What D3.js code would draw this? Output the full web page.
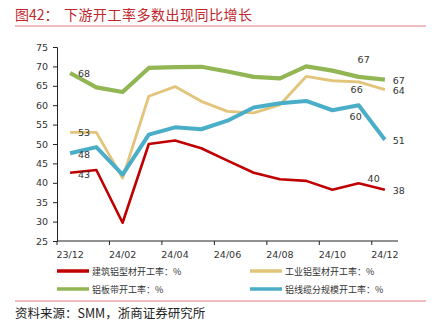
<!DOCTYPE html>
<html>
<head>
<meta charset="utf-8">
<script src="https://cdn.jsdelivr.net/npm/d3@7"></script>
<style>
  body { margin: 0; background: #fff; }
  svg text { font-family: "DejaVu Sans", "Noto Sans CJK SC", sans-serif; }
  .cjk { font-family: "Noto Sans CJK SC", sans-serif; }
</style>
</head>
<body>
<svg id="chart" width="434" height="335"></svg>
<script>
// data
const months = ["23/12", "24/01", "24/02", "24/03", "24/04", "24/05", "24/06",
  "24/07", "24/08", "24/09", "24/10", "24/11", "24/12"]
const tickLabels = ["23/12", "24/02", "24/04", "24/06", "24/08", "24/10", "24/12"]
const yTicks = [25, 30, 35, 40, 45, 50, 55, 60, 65, 70, 75]

const construction = [42.6, 43.3, 29.7, 50.0, 50.9, 48.9, 45.7, 42.6, 40.9, 40.5, 38.2, 39.9, 38.2]
const industrial = [53.0, 53.0, 41.2, 62.3, 64.8, 61.0, 58.4, 58.0, 60.1, 67.4, 66.3, 66.0, 64.0]
const strip = [68.3, 64.6, 63.4, 69.6, 69.8, 69.9, 68.7, 67.3, 66.9, 70.0, 68.9, 67.3, 66.6]
const cable = [47.6, 49.2, 42.1, 52.4, 54.3, 53.8, 56.0, 59.4, 60.5, 61.1, 58.7, 60.0, 51.1]

const series = [
  {name: "建筑铝型材开工率：%", values: construction, color: "#C00000", width: 2.6},
  {name: "工业铝型材开工率：%", values: industrial, color: "#E2C47A", width: 2.8},
  {name: "铝板带开工率：%", values: strip, color: "#92B653", width: 4.2},
  {name: "铝线缆分规模开工率：%", values: cable, color: "#4BAEC8", width: 4}
]

// data labels: [series index, month index, text, dx, dy]
const labels = [
  [2, 0, "68", 14, 4], [1, 0, "53", 14, 4], [3, 0, "48", 14, 5], [0, 0, "43", 14, 5],
  [2, 11, "67", 5, -14], [1, 11, "66", -2, 11], [3, 11, "60", -3, 15], [0, 11, "40", 15, -1],
  [2, 12, "67", 14, 4], [1, 12, "64", 14, 4], [3, 12, "51", 14, 4], [0, 12, "38", 14, 4]
]

const dimensions = {
  width: 434,
  height: 335,
  margin: {top: 47, right: 36, bottom: 94, left: 57}
}
dimensions.boundedWidth = dimensions.width - dimensions.margin.left - dimensions.margin.right
dimensions.boundedHeight = dimensions.height - dimensions.margin.top - dimensions.margin.bottom

function drawChart() {
  const svg = d3.select("#chart")

  // title and rules
  svg.append("text")
    .attr("class", "cjk")
    .attr("x", 15).attr("y", 20)
    .attr("fill", "#C0282E")
    .style("font-size", "14px")
    .text("图42：")
  svg.append("text")
    .attr("class", "cjk")
    .attr("x", 64).attr("y", 20)
    .attr("fill", "#C0282E")
    .style("font-size", "14px")
    .style("letter-spacing", "0.5px")
    .text("下游开工率多数出现同比增长")
  svg.append("line")
    .attr("x1", 15).attr("x2", 426).attr("y1", 26).attr("y2", 26)
    .attr("stroke", "#E07C80").attr("stroke-width", 1.2)
  svg.append("line")
    .attr("x1", 15).attr("x2", 426).attr("y1", 301).attr("y2", 301)
    .attr("stroke", "#E07C80").attr("stroke-width", 1.2)
  svg.append("text")
    .attr("class", "cjk")
    .attr("x", 15).attr("y", 318)
    .attr("fill", "#222")
    .style("font-size", "12.5px")
    .text("资料来源：SMM，浙商证券研究所")

  const g = svg.append("g")
    .attr("transform", "translate(" + dimensions.margin.left + "," + dimensions.margin.top + ")")

  const x = d3.scaleBand()
    .domain(months)
    .range([0, dimensions.boundedWidth])
  const y = d3.scaleLinear()
    .domain([25, 75])
    .range([dimensions.boundedHeight, 0])

  // y axis
  const yAxis = g.append("g")
    .call(d3.axisLeft(y).tickValues(yTicks).tickSize(4).tickPadding(5))
  yAxis.select(".domain").attr("stroke", "#222")
  yAxis.selectAll(".tick line").attr("stroke", "#222")
  yAxis.selectAll("text").attr("fill", "#333").style("font-size", "9.5px")

  // x axis: ticks on band edges every two months, labels under band centres
  const xAxis = g.append("g")
    .attr("transform", "translate(0," + dimensions.boundedHeight + ")")
  xAxis.append("line")
    .attr("x1", 0).attr("x2", dimensions.boundedWidth)
    .attr("stroke", "#222")
  xAxis.selectAll(".xtick")
    .data(months.filter((d, i) => i % 2 === 0))
    .enter().append("line")
      .attr("x1", d => x(d)).attr("x2", d => x(d))
      .attr("y1", 0).attr("y2", 4)
      .attr("stroke", "#222")
  xAxis.selectAll(".xlabel")
    .data(tickLabels)
    .enter().append("text")
      .attr("x", d => x(d) + x.bandwidth() / 2)
      .attr("y", 17)
      .attr("text-anchor", "middle")
      .attr("fill", "#333")
      .style("font-size", "9.5px")
      .text(d => d)

  const line = d3.line()
    .x((d, i) => x(months[i]) + x.bandwidth() / 2)
    .y(d => y(d))

  series.forEach(s => {
    g.append("path")
      .datum(s.values)
      .attr("fill", "none")
      .attr("stroke", s.color)
      .attr("stroke-width", s.width)
      .attr("stroke-linejoin", "round")
      .attr("d", line)
  })

  // data labels
  g.selectAll(".dlabel")
    .data(labels)
    .enter().append("text")
      .attr("x", d => x(months[d[1]]) + x.bandwidth() / 2 + d[3])
      .attr("y", d => y(series[d[0]].values[d[1]]) + d[4])
      .attr("text-anchor", "middle")
      .attr("fill", "#333")
      .style("font-size", "9.5px")
      .text(d => d[2])

  // legend
  const legendPos = [[57, 271], [250, 271], [57, 289], [250, 289]]
  series.forEach((s, i) => {
    const [lx, ly] = legendPos[i]
    svg.append("line")
      .attr("x1", lx).attr("x2", lx + 32)
      .attr("y1", ly).attr("y2", ly)
      .attr("stroke", s.color)
      .attr("stroke-width", 3.5)
    svg.append("text")
      .attr("class", "cjk")
      .attr("x", lx + 35).attr("y", ly + 3.5)
      .attr("fill", "#333")
      .style("font-size", "9px")
      .text(s.name)
  })
}

drawChart()
</script>
</body>
</html>
